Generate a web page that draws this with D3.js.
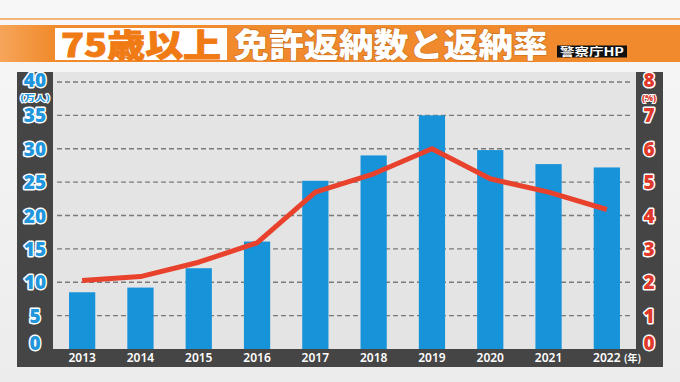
<!DOCTYPE html>
<html><head><meta charset="utf-8">
<script src="https://cdn.jsdelivr.net/npm/d3@7"></script>
<style>
html,body{margin:0;padding:0;background:#f1f1f1;}
svg{display:block;}
</style></head>
<body>
<script>
const years = ["2013","2014","2015","2016","2017","2018","2019","2020","2021","2022"];
const returns = [8.5, 9.2, 12.1, 16.1, 25.2, 29.0, 35.0, 29.8, 27.7, 27.2]; // 万人
const rate = [2.05, 2.17, 2.6, 3.18, 4.7, 5.25, 6.0, 5.1, 4.7, 4.18]; // %
const leftTicks = [0,5,10,15,20,25,30,35,40];
const rightTicks = [0,1,2,3,4,5,6,7,8];
const titleA = "75歳以上";
const titleB = "免許返納数と返納率";
const source = "警察庁HP";

const W = 680, H = 382;
const svg = d3.select("body").append("svg").attr("width", W).attr("height", H);
const defs = svg.append("defs");
const bg = defs.append("linearGradient").attr("id","bgg").attr("x1",0).attr("x2",0).attr("y1",0).attr("y2",1);
bg.append("stop").attr("offset","0").attr("stop-color","#f7f7f7");
bg.append("stop").attr("offset","1").attr("stop-color","#ececec");
svg.append("rect").attr("width",W).attr("height",H).attr("fill","url(#bgg)");

// Title band
const og = defs.append("linearGradient").attr("id","og").attr("x1",0).attr("x2",1);
og.append("stop").attr("offset","0").attr("stop-color","#f6a55a");
og.append("stop").attr("offset","0.08").attr("stop-color","#f08a2c");
og.append("stop").attr("offset","1").attr("stop-color","#f08a2c");
svg.append("rect").attr("x",0).attr("y",18).attr("width",W).attr("height",2).attr("fill","#f5b47a");
svg.append("rect").attr("x",0).attr("y",25).attr("width",W).attr("height",37).attr("fill","url(#og)");
svg.append("rect").attr("x",55).attr("y",28).attr("width",172).attr("height",32).attr("fill","#fff");
svg.append("text").attr("x",61).attr("y",57).attr("font-family","'Noto Sans CJK JP'").attr("font-weight",900)
  .attr("font-size",32).attr("fill","#f07a14").attr("stroke","#f07a14").attr("stroke-width",0.8)
  .attr("textLength",160).attr("lengthAdjust","spacingAndGlyphs").text(titleA);
svg.append("text").attr("x",234).attr("y",57).attr("font-family","'Noto Sans CJK JP'").attr("font-weight",900)
  .attr("font-size",33).attr("fill","#fff").attr("stroke","#c86a18").attr("stroke-width",1.2).attr("paint-order","stroke")
  .attr("textLength",314).attr("lengthAdjust","spacingAndGlyphs").text(titleB);
svg.append("rect").attr("x",557).attr("y",45.5).attr("width",70).attr("height",12).attr("fill","#111");
svg.append("text").attr("x",592).attr("y",55.5).attr("text-anchor","middle").attr("font-family","'Noto Sans CJK JP'")
  .attr("font-weight",700).attr("font-size",11).attr("fill","#fff").attr("textLength",64).attr("lengthAdjust","spacingAndGlyphs").text(source);

// Frame
const fx0 = 17, fx1 = 663, fy0 = 72, fy1 = 367;
const px0 = 53, px1 = 636, py0 = 72, py1 = 349;
svg.append("rect").attr("x",fx0).attr("y",fy0).attr("width",fx1-fx0).attr("height",fy1-fy0).attr("fill","#454545");
svg.append("rect").attr("x",px0).attr("y",py0).attr("width",px1-px0).attr("height",py1-py0).attr("fill","#e4e4e4");

const x = d3.scaleBand().domain(years).range([px0, px1]).paddingInner(0.55).paddingOuter(0.275);
const yL = d3.scaleLinear().domain([0,40]).range([349, 82]);
const yR = d3.scaleLinear().domain([0,8]).range([349, 82]);

// gridlines
svg.append("g").selectAll("line").data(leftTicks.filter(d=>d>0)).join("line")
  .attr("x1",px0+4).attr("x2",px1-4).attr("y1",d=>yL(d)).attr("y2",d=>yL(d))
  .attr("stroke","#7a7a7a").attr("stroke-width",1.4).attr("stroke-dasharray","5,3");

// bars
svg.append("g").selectAll("rect").data(years).join("rect")
  .attr("x",d=>x(d)).attr("width",x.bandwidth())
  .attr("y",(d,i)=>yL(returns[i])).attr("height",(d,i)=>yL(0)-yL(returns[i]))
  .attr("fill","#1793da");

// line
const line = d3.line().x((d,i)=>x(years[i])+x.bandwidth()/2).y(d=>yR(d));
svg.append("path").datum(rate).attr("d",line).attr("fill","none")
  .attr("stroke","#e8412c").attr("stroke-width",5).attr("stroke-linejoin","round");

// axis label y placement
const labY = (v, scale, top) => v === 0 ? scale(v) + 1 : (v === top ? scale(v) + 4.5 : scale(v) + 7);

// left axis labels
const lab = svg.append("g").attr("font-family","'Noto Sans',sans-serif").attr("font-weight",900)
  .attr("font-size",19).attr("text-anchor","middle").attr("paint-order","stroke");
lab.selectAll("text.l").data(leftTicks).join("text").attr("class","l")
  .attr("x",35).attr("y",d=>labY(d, yL, 40))
  .attr("fill","#2196dc").attr("stroke","#fff").attr("stroke-width",3).attr("stroke-linejoin","round")
  .text(d=>d);
svg.append("text").attr("x",35).attr("y",101).attr("text-anchor","middle").attr("font-family","'Noto Sans CJK JP'")
  .attr("font-weight",900).attr("font-size",8).attr("fill","#2196dc").attr("stroke","#fff").attr("stroke-width",2)
  .attr("paint-order","stroke").attr("textLength",30).attr("lengthAdjust","spacingAndGlyphs").text("(万人)");

// right axis labels
lab.selectAll("text.r").data(rightTicks).join("text").attr("class","r")
  .attr("x",649).attr("y",d=>labY(d, yR, 8))
  .attr("fill","#e0392b").attr("stroke","#fff").attr("stroke-width",3).attr("stroke-linejoin","round")
  .text(d=>d);
svg.append("text").attr("x",649).attr("y",101).attr("text-anchor","middle").attr("font-family","'Noto Sans',sans-serif")
  .attr("font-weight",900).attr("font-size",8.5).attr("fill","#e0392b").attr("stroke","#fff").attr("stroke-width",2)
  .attr("paint-order","stroke").text("(%)");

// x labels
svg.append("g").selectAll("text").data(years).join("text")
  .attr("x",d=>x(d)+x.bandwidth()/2).attr("y",362).attr("text-anchor","middle")
  .attr("font-family","'Noto Sans',sans-serif").attr("font-weight",600).attr("font-size",12).attr("fill","#fff").text(d=>d);
svg.append("text").attr("x",x("2022")+x.bandwidth()/2+17).attr("y",361.5).attr("font-family","'Noto Sans CJK JP'")
  .attr("font-weight",700).attr("font-size",10).attr("fill","#fff").text("(年)");
</script>
</body></html>
